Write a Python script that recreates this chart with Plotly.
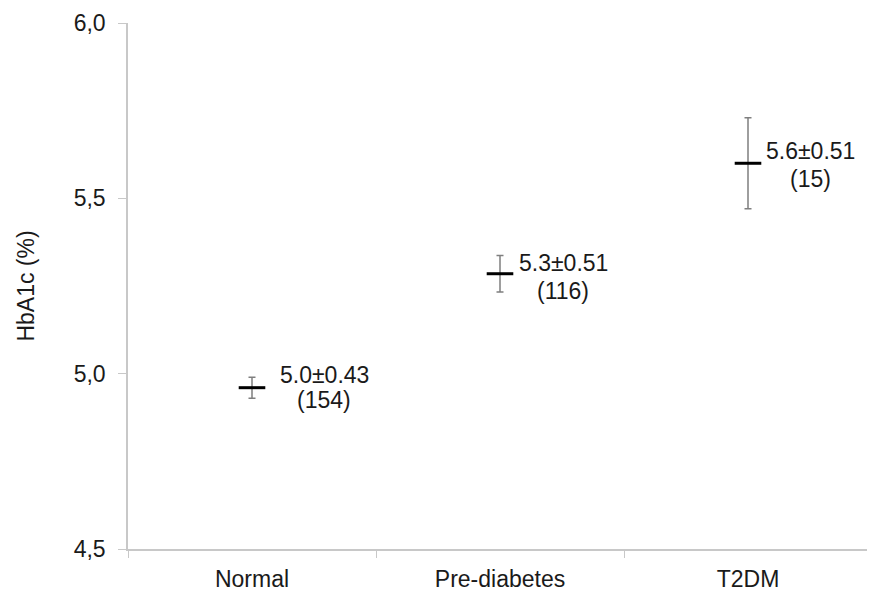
import plotly.graph_objects as go

categories = ["Normal", "Pre-diabetes", "T2DM"]
means = [4.96, 5.285, 5.60]
errors = [0.03, 0.052, 0.13]
labels_line1 = ["5.0±0.43", "5.3±0.51", "5.6±0.51"]
labels_line2 = ["(154)", "(116)", "(15)"]
y_ticks = [4.5, 5.0, 5.5, 6.0]

FONT = "Liberation Sans, Arial, sans-serif"
TXT = "#1a1a1a"
FS = 23

fig = go.Figure()
fig.add_trace(go.Scatter(
    x=categories, y=means, mode="markers",
    marker=dict(symbol="line-ew", size=19, line=dict(width=3, color="#000000")),
    error_y=dict(type="data", array=errors, visible=True, color="#7f7f7f",
                 thickness=1.5, width=3.5),
    showlegend=False, hoverinfo="skip",
))

xshifts = [72, 63, 62]
yoffs = [(13, -12), (11, -17), (12, -16)]
for c, m, a, b, s, (u, d) in zip(categories, means, labels_line1, labels_line2, xshifts, yoffs):
    fig.add_annotation(x=c, y=m, xref="x", yref="y", text=a,
                       showarrow=False, xanchor="center", yanchor="middle",
                       xshift=s, yshift=u,
                       font=dict(family=FONT, size=FS, color=TXT))
    fig.add_annotation(x=c, y=m, xref="x", yref="y", text=b,
                       showarrow=False, xanchor="center", yanchor="middle",
                       xshift=s, yshift=d,
                       font=dict(family=FONT, size=FS, color=TXT))

fig.update_layout(
    width=867, height=587,
    margin=dict(l=120, r=3, t=15, b=46),
    paper_bgcolor="white", plot_bgcolor="white",
    separators=",.",
    font=dict(family=FONT, size=FS, color=TXT),
    xaxis=dict(
        type="category", range=[-0.5, len(categories) - 0.5],
        showline=True, linecolor="#c8c8c8", linewidth=1.5,
        ticks="outside", tickson="boundaries", ticklen=7, tickcolor="#c8c8c8",
        ticklabelstandoff=9,
        showgrid=False, zeroline=False,
        tickfont=dict(family=FONT, size=FS, color=TXT),
    ),
    yaxis=dict(
        range=[4.5, 6.0], tickvals=y_ticks, tickformat=".1f",
        showline=True, linecolor="#c8c8c8", linewidth=1.5,
        ticks="outside", ticklen=8, tickcolor="#c8c8c8",
        ticklabelstandoff=8,
        showgrid=False, zeroline=False,
        tickfont=dict(family=FONT, size=FS, color=TXT),
        title=dict(text="HbA1c (%)", font=dict(family=FONT, size=FS, color=TXT), standoff=33),
    ),
)

fig.write_html("out.html")
